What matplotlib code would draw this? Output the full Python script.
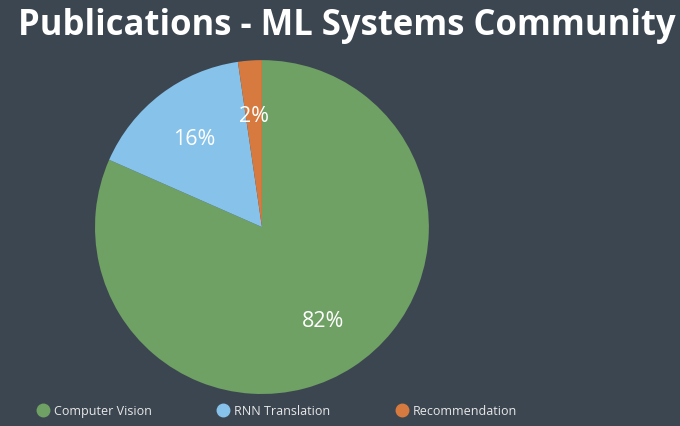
import matplotlib.pyplot as plt
from matplotlib.lines import Line2D

labels = ['Computer Vision', 'RNN Translation', 'Recommendation']
shares = [81.6, 16.1, 2.3]
colors = ['#6fa064', '#86c2ea', '#d77a3f']
bg = '#3c4650'

fig = plt.figure(figsize=(6.8, 4.27), dpi=100, facecolor=bg)
ax = fig.add_axes([0.1397, 0.0749, 0.491, 0.782])
ax.set_facecolor(bg)

wedges, texts, autotexts = ax.pie(shares, colors=colors, startangle=90, counterclock=False,
                                  autopct='%.0f%%', pctdistance=0.67,
                                  textprops={'color': 'white', 'fontsize': 15.5, 'family': 'Open Sans'})
ax.set_xlim(-1, 1)
ax.set_ylim(-1, 1)
ax.set_aspect('equal')

fig.text(0.026, 0.982, 'Publications - ML Systems Community', color='white',
         fontsize=24.9, fontweight='bold', family='Open Sans', va='top', ha='left')

handles = [Line2D([], [], marker='o', linestyle='', markersize=9, color=c) for c in colors]
fig.legend(handles, labels, ncol=3, loc='lower left', bbox_to_anchor=(0.037, -0.005),
           frameon=False, labelcolor='#e8e8e8', columnspacing=5.2,
           handletextpad=0.4, handlelength=1.0, prop={'family': 'Open Sans', 'size': 9})

fig.savefig('out.png', dpi=100, facecolor=bg)
